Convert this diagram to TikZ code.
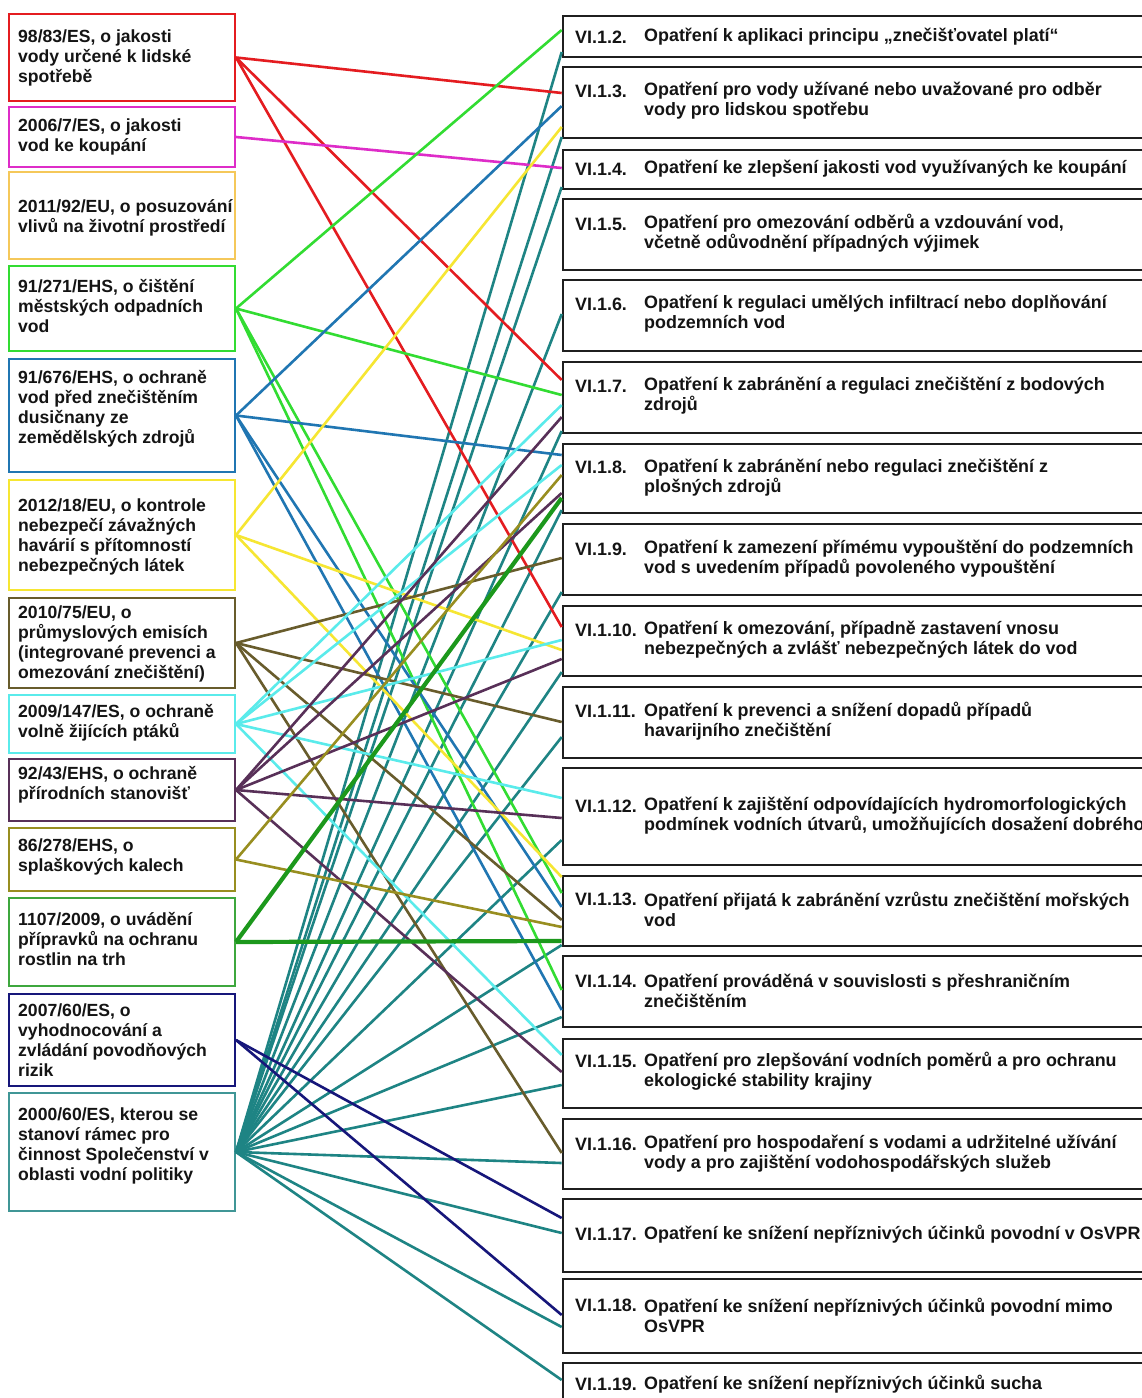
\documentclass[tikz,border=0pt]{standalone}
\usepackage{fontspec}
\setmainfont{Liberation Sans}
\definecolor{cred}{RGB}{228,28,32}
\definecolor{cmag}{RGB}{222,44,200}
\definecolor{corange}{RGB}{245,200,90}
\definecolor{cgreen}{RGB}{50,220,50}
\definecolor{cblue}{RGB}{32,118,178}
\definecolor{cyellow}{RGB}{246,230,50}
\definecolor{colivedark}{RGB}{104,92,44}
\definecolor{ccyan}{RGB}{90,235,235}
\definecolor{cpurple}{RGB}{88,48,88}
\definecolor{colive}{RGB}{152,142,32}
\definecolor{cgdark}{RGB}{28,152,28}
\definecolor{cnavy}{RGB}{22,22,122}
\definecolor{cteal}{RGB}{30,132,132}
\definecolor{ctext}{RGB}{20,20,20}
\newcommand\cn[4]{\draw[con=#1] (#2.east) -- (#3.west |- 0,#4);}
\begin{document}
\begin{tikzpicture}[x=1pt,y=-1pt,
  lbox/.style={draw=#1, line width=2pt, fill=white, minimum width=226pt, inner sep=0pt},
  rbox/.style={draw=black!88, line width=2.6pt, fill=white, minimum width=610pt, inner sep=0pt},
  txt/.style={anchor=west, align=left, inner sep=0pt, text=ctext, font=\bfseries\fontsize{17.6}{20}\selectfont},
  rtxt/.style={txt, font=\bfseries\fontsize{17.9}{20}\selectfont},
  con/.style={draw=#1, line width=2.6pt},
]
\useasboundingbox (0,0) rectangle (1142,1398);
\fill[white] (0,0) rectangle (1142,1398);
\clip (0,0) rectangle (1142,1398);

% left boxes
\node[lbox=cred, minimum height=87pt] (L1) at (122,57.5) {};
\node[lbox=cmag, minimum height=60pt] (L2) at (122,137) {};
\node[lbox=corange, minimum height=87pt] (L3) at (122,215.5) {};
\node[lbox=cgreen, minimum height=85pt] (L4) at (122,308.5) {};
\node[lbox=cblue, minimum height=113pt] (L5) at (122,415.5) {};
\node[lbox=cyellow, minimum height=110pt] (L6) at (122,535) {};
\node[lbox=colivedark, minimum height=90pt] (L7) at (122,643) {};
\node[lbox=ccyan, minimum height=58pt] (L8) at (122,724) {};
\node[lbox=cpurple, minimum height=62pt] (L9) at (122,790) {};
\node[lbox=colive, minimum height=63pt] (L10) at (122,859.5) {};
\node[lbox=cgdark!85!white, minimum height=88pt] (L11) at (122,942) {};
\node[lbox=cnavy, minimum height=92pt] (L12) at (122,1040) {};
\node[lbox=cteal!85!white, minimum height=118pt] (L13) at (122,1152) {};

\node[txt] (L1t) at (18,57.5) {98/83/ES, o jakosti\\vody určené k lidské\\spotřebě};
\node[txt] (L2t) at (18,136.5) {2006/7/ES, o jakosti\\vod ke koupání};
\node[txt] (L3t) at (18,217.5) {2011/92/EU, o posuzování\\vlivů na životní prostředí};
\node[txt] (L4t) at (18,306.5) {91/271/EHS, o čištění\\městských odpadních\\vod};
\node[txt] (L5t) at (18,409) {91/676/EHS, o ochraně\\vod před znečištěním\\dusičnany ze\\zemědělských zdrojů};
\node[txt] (L6t) at (18,537) {2012/18/EU, o kontrole\\nebezpečí závažných\\havárií s přítomností\\nebezpečných látek};
\node[txt] (L7t) at (18,644) {2010/75/EU, o\\průmyslových emisích\\(integrované prevenci a\\omezování znečištění)};
\node[txt] (L8t) at (18,723) {2009/147/ES, o ochraně\\volně žijících ptáků};
\node[txt] (L9t) at (18,785) {92/43/EHS, o ochraně\\přírodních stanovišť};
\node[txt] (L10t) at (18,857) {86/278/EHS, o\\splaškových kalech};
\node[txt] (L11t) at (18,939.5) {1107/2009, o uvádění\\přípravků na ochranu\\rostlin na trh};
\node[txt] (L12t) at (18,1040) {2007/60/ES, o\\vyhodnocování a\\zvládání povodňových\\rizik};
\node[txt] (L13t) at (18,1146) {2000/60/ES, kterou se\\stanoví rámec pro\\činnost Společenství v\\oblasti vodní politiky};

% right boxes
\node[rbox, minimum height=41pt] (R2) at (868,36.5) {};
\node[rbox, minimum height=71pt] (R3) at (868,102.5) {};
\node[rbox, minimum height=39pt] (R4) at (868,169.5) {};
\node[rbox, minimum height=71pt] (R5) at (868,234.5) {};
\node[rbox, minimum height=71pt] (R6) at (868,315.5) {};
\node[rbox, minimum height=71pt] (R7) at (868,397.5) {};
\node[rbox, minimum height=69pt] (R8) at (868,478.5) {};
\node[rbox, minimum height=71pt] (R9) at (868,559.5) {};
\node[rbox, minimum height=70pt] (R10) at (868,641) {};
\node[rbox, minimum height=71pt] (R11) at (868,722.5) {};
\node[rbox, minimum height=97pt] (R12) at (868,816.5) {};
\node[rbox, minimum height=70pt] (R13) at (868,911) {};
\node[rbox, minimum height=71pt] (R14) at (868,991.5) {};
\node[rbox, minimum height=69pt] (R15) at (868,1073.5) {};
\node[rbox, minimum height=70pt] (R16) at (868,1154) {};
\node[rbox, minimum height=73pt] (R17) at (868,1235.5) {};
\node[rbox, minimum height=74pt] (R18) at (868,1316) {};
\node[rbox, minimum height=77pt] (R19) at (868,1401.5) {};

\node[rtxt] (R2l) at (575,37) {VI.1.2.};
\node[rtxt] (R2t) at (644,37) {Opatření k aplikaci principu „znečišťovatel platí“};
\node[rtxt] (R3l) at (575,91) {VI.1.3.};
\node[rtxt] (R3t) at (644,101) {Opatření pro vody užívané nebo uvažované pro odběr\\vody pro lidskou spotřebu};
\node[rtxt] (R4l) at (575,169) {VI.1.4.};
\node[rtxt] (R4t) at (644,169) {Opatření ke zlepšení jakosti vod využívaných ke koupání};
\node[rtxt] (R5l) at (575,224) {VI.1.5.};
\node[rtxt] (R5t) at (644,233.5) {Opatření pro omezování odběrů a vzdouvání vod,\\včetně odůvodnění případných výjimek};
\node[rtxt] (R6l) at (575,304) {VI.1.6.};
\node[rtxt] (R6t) at (644,314) {Opatření k regulaci umělých infiltrací nebo doplňování\\podzemních vod};
\node[rtxt] (R7l) at (575,386) {VI.1.7.};
\node[rtxt] (R7t) at (644,396) {Opatření k zabránění a regulaci znečištění z bodových\\zdrojů};
\node[rtxt] (R8l) at (575,467) {VI.1.8.};
\node[rtxt] (R8t) at (644,477.5) {Opatření k zabránění nebo regulaci znečištění z\\plošných zdrojů};
\node[rtxt] (R9l) at (575,549) {VI.1.9.};
\node[rtxt] (R9t) at (644,559) {Opatření k zamezení přímému vypouštění do podzemních\\vod s uvedením případů povoleného vypouštění};
\node[rtxt] (R10l) at (575,630) {VI.1.10.};
\node[rtxt] (R10t) at (644,640) {Opatření k omezování, případně zastavení vnosu\\nebezpečných a zvlášť nebezpečných látek do vod};
\node[rtxt] (R11l) at (575,711) {VI.1.11.};
\node[rtxt] (R11t) at (644,721) {Opatření k prevenci a snížení dopadů případů\\havarijního znečištění};
\node[rtxt] (R12l) at (575,806) {VI.1.12.};
\node[rtxt] (R12t) at (644,815.5) {Opatření k zajištění odpovídajících hydromorfologických\\podmínek vodních útvarů, umožňujících dosažení dobrého};
\node[rtxt] (R13l) at (575,899) {VI.1.13.};
\node[rtxt] (R13t) at (644,909.5) {Opatření přijatá k zabránění vzrůstu znečištění mořských\\vod};
\node[rtxt] (R14l) at (575,981) {VI.1.14.};
\node[rtxt] (R14t) at (644,991) {Opatření prováděná v souvislosti s přeshraničním\\znečištěním};
\node[rtxt] (R15l) at (575,1061) {VI.1.15.};
\node[rtxt] (R15t) at (644,1071) {Opatření pro zlepšování vodních poměrů a pro ochranu\\ekologické stability krajiny};
\node[rtxt] (R16l) at (575,1144) {VI.1.16.};
\node[rtxt] (R16t) at (644,1154) {Opatření pro hospodaření s vodami a udržitelné užívání\\vody a pro zajištění vodohospodářských služeb};
\node[rtxt] (R17l) at (575,1234) {VI.1.17.};
\node[rtxt] (R17t) at (644,1234) {Opatření ke snížení nepříznivých účinků povodní v OsVPR};
\node[rtxt] (R18l) at (575,1305) {VI.1.18.};
\node[rtxt] (R18t) at (644,1315) {Opatření ke snížení nepříznivých účinků povodní mimo\\OsVPR};
\node[rtxt] (R19l) at (575,1384) {VI.1.19.};
\node[rtxt] (R19t) at (644,1384) {Opatření ke snížení nepříznivých účinků sucha};

% connectors: teal (2000/60/ES)
\cn{cteal}{L13}{R2}{52}
\cn{cteal}{L13}{R3}{137}
\cn{cteal}{L13}{R4}{187}
\cn{cteal}{L13}{R6}{314}
\cn{cteal}{L13}{R7}{431}
\cn{cteal}{L13}{R8}{510}
\cn{cteal}{L13}{R9}{592}
\cn{cteal}{L13}{R10}{672}
\cn{cteal}{L13}{R11}{737}
\cn{cteal}{L13}{R12}{840}
\cn{cteal}{L13}{R13}{945}
\cn{cteal}{L13}{R14}{1017}
\cn{cteal}{L13}{R15}{1085}
\cn{cteal}{L13}{R16}{1163}
\cn{cteal}{L13}{R17}{1233}
\cn{cteal}{L13}{R18}{1327}
\cn{cteal}{L13}{R19}{1380}
% red
\cn{cred}{L1}{R3}{93}
\cn{cred}{L1}{R7}{380}
\cn{cred}{L1}{R10}{627}
% magenta
\cn{cmag}{L2}{R4}{168}
% green
\cn{cgreen}{L4}{R2}{30}
\cn{cgreen}{L4}{R7}{395}
\cn{cgreen}{L4}{R13}{893}
\cn{cgreen}{L4}{R14}{990}
% blue
\cn{cblue}{L5}{R3}{106}
\cn{cblue}{L5}{R8}{455}
\cn{cblue}{L5}{R13}{907}
\cn{cblue}{L5}{R14}{1010}
% yellow
\cn{cyellow}{L6}{R3}{127}
\cn{cyellow}{L6}{R10}{650}
\cn{cyellow}{L6}{R13}{877}
% olive dark
\cn{colivedark}{L7}{R9}{558}
\cn{colivedark}{L7}{R11}{722}
\cn{colivedark}{L7}{R13}{920}
\cn{colivedark}{L7}{R16}{1153}
% cyan
\cn{ccyan}{L8}{R7}{405}
\cn{ccyan}{L8}{R8}{465}
\cn{ccyan}{L8}{R10}{640}
\cn{ccyan}{L8}{R12}{798}
\cn{ccyan}{L8}{R15}{1055}
% purple
\cn{cpurple}{L9}{R7}{417}
\cn{cpurple}{L9}{R8}{493}
\cn{cpurple}{L9}{R10}{659}
\cn{cpurple}{L9}{R12}{818}
\cn{cpurple}{L9}{R15}{1072}
% olive
\cn{colive}{L10}{R8}{475}
\cn{colive}{L10}{R13}{927}
% green dark (thick)
\draw[con=cgdark, line width=4.2pt] (L11.east) -- (R8.west |- 0,498);
\draw[con=cgdark, line width=4.2pt] (L11.east) -- (R13.west |- 0,941);
% navy
\cn{cnavy}{L12}{R17}{1218}
\cn{cnavy}{L12}{R18}{1315}
\end{tikzpicture}
\end{document}
